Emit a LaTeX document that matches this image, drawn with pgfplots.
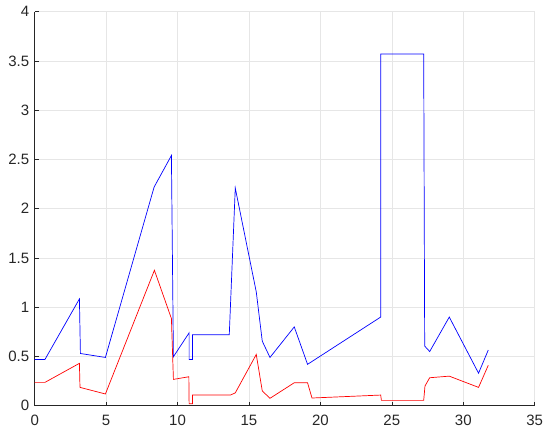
\documentclass[border=0pt]{standalone}
\usepackage{fontspec}
\setmainfont{Liberation Sans}
\usepackage{pgfplots}
\pgfplotsset{compat=1.18}
\definecolor{axgray}{HTML}{262626}
\definecolor{gridgray}{HTML}{E6E6E6}

\begin{document}
\begin{tikzpicture}
\begin{axis}[
    scale only axis,
    width=500pt, height=394pt,
    xmin=0, xmax=35, ymin=0, ymax=4,
    xtick={0,5,...,35},
    ytick={0,0.5,...,4},
    axis x line*=bottom, axis y line*=left,
    axis line style={axgray, line width=0.6pt},
    tick style={axgray, line width=0.6pt},
    tick align=inside,
    major tick length=4pt,
    grid=major, grid style={gridgray, line width=0.6pt},
    ticklabel style={font=\fontsize{15}{17}\selectfont, text=axgray},
    xticklabel style={yshift=-6pt},
    yticklabel style={xshift=-2pt},
    /pgf/number format/assume math mode=true,
    every axis plot/.append style={line width=0.7pt},
]
\addplot[blue] coordinates {
    (0,0.47) (0.72,0.47) (3.13,1.084) (3.20,0.53) (4.95,0.49) (8.36,2.22)
    (9.57,2.54) (9.71,0.497) (10.81,0.74) (10.81,0.47) (11.05,0.47) (11.05,0.72)
    (13.62,0.72) (14.04,2.21) (15.51,1.155) (15.93,0.655) (16.47,0.49) (18.17,0.80)
    (19.10,0.42) (24.22,0.90) (24.22,3.57) (27.23,3.57) (27.30,0.605) (27.65,0.55)
    (29.02,0.90) (31.07,0.33) (31.75,0.565)};
\addplot[red] coordinates {
    (0,0.237) (0.72,0.237) (3.13,0.43) (3.17,0.186) (4.95,0.119) (8.38,1.375)
    (9.57,0.885) (9.71,0.267) (10.79,0.294) (10.81,0.02) (11.05,0.02) (11.05,0.108)
    (13.70,0.108) (14.04,0.13) (15.51,0.52) (15.93,0.15) (16.47,0.075) (18.17,0.233)
    (19.10,0.233) (19.41,0.078) (24.22,0.108) (24.27,0.054) (27.23,0.054) (27.32,0.20)
    (27.65,0.284) (29.02,0.30) (31.07,0.186) (31.75,0.41)};
\end{axis}
\pgfresetboundingbox
\path[use as bounding box] (-34.7pt,-31.3pt) rectangle (515.3pt,405.7pt);
\end{tikzpicture}
\end{document}
